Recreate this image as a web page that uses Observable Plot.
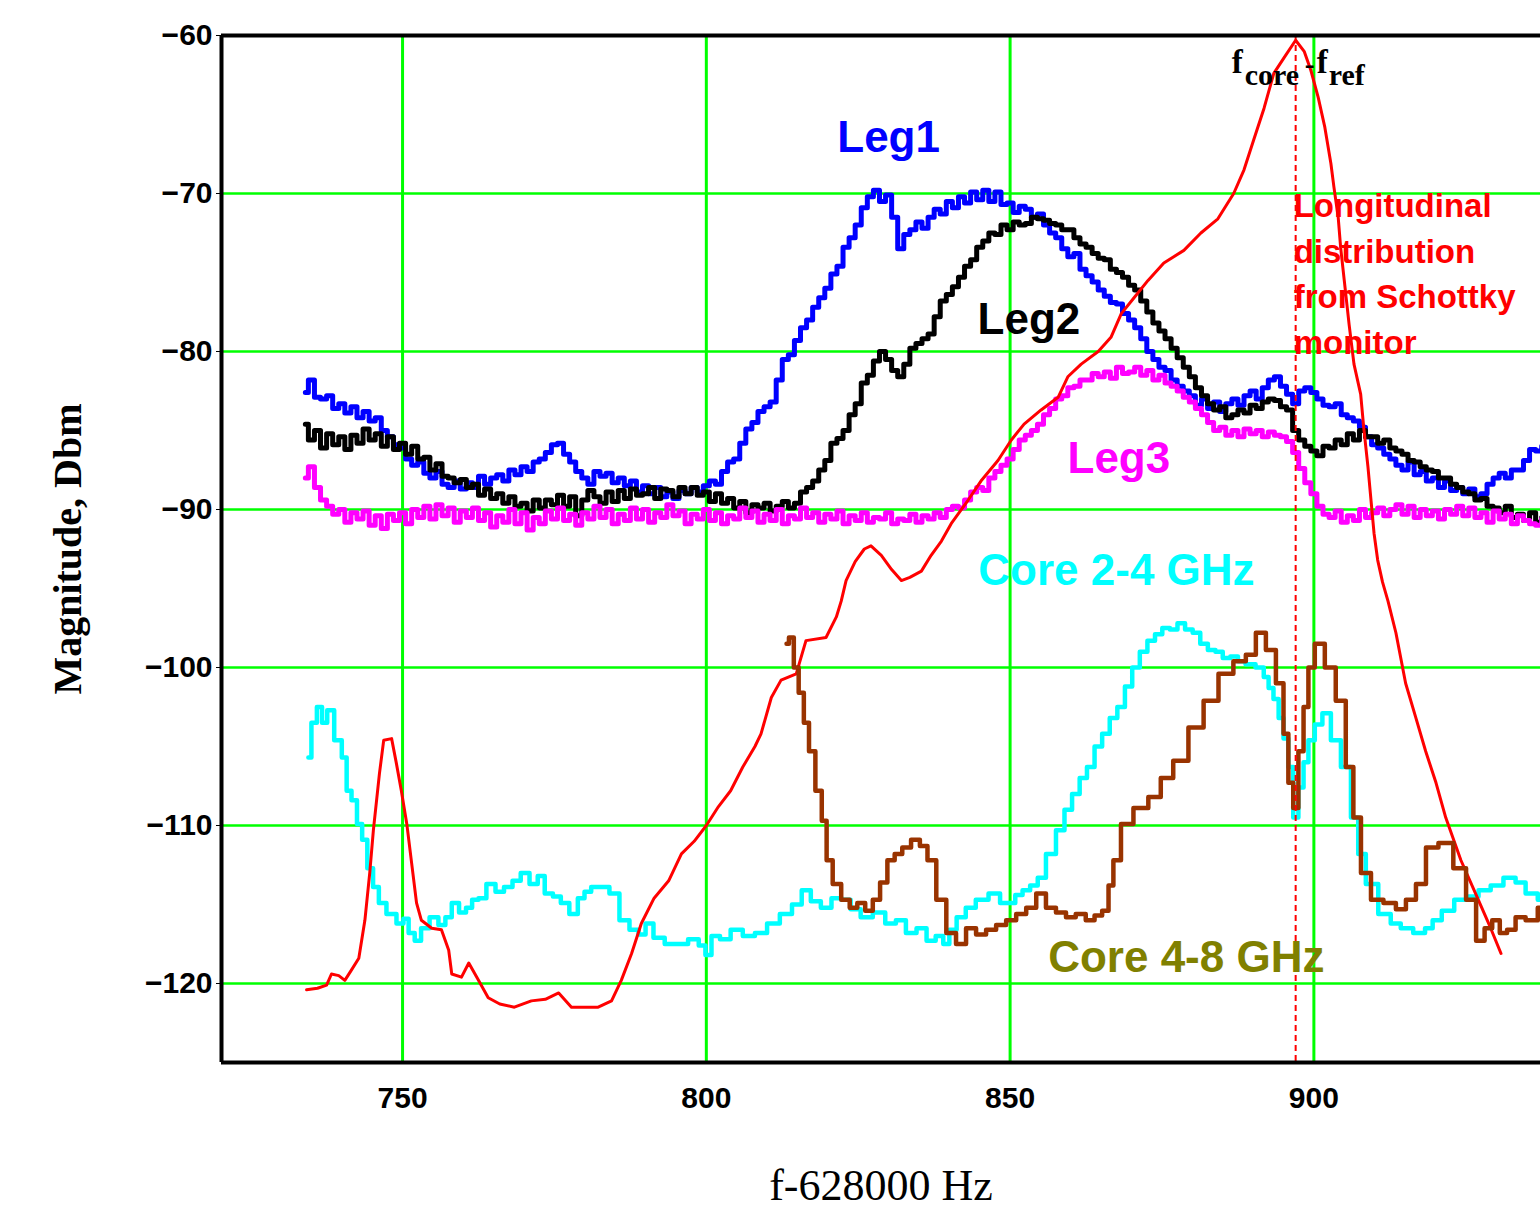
<!DOCTYPE html>
<html><head><meta charset="utf-8">
<script src="https://cdn.jsdelivr.net/npm/d3@7"></script>
<script src="https://cdn.jsdelivr.net/npm/@observablehq/plot@0.6"></script>
<style>body{margin:0;background:#fff}#chart svg{display:block}</style>
</head><body><div id="chart"></div>
<script>
const xDomain = [720.2, 937.3];
const yDomain = [-125, -60];
const xTicks = [750, 800, 850, 900];
const yTicks = [-60, -70, -80, -90, -100, -110, -120];
const gridY = [-70, -80, -90, -100, -110, -120];
const fRefLine = [897];

const leg1 = [[734,-82.6],[735,-81.8],[736,-82.9],[737,-83.0],[738,-82.8],[739,-83.6],[740,-83.3],[741,-83.9],[742,-83.5],[743,-84.2],[744,-83.8],[745,-84.4],[746,-84.2],[747,-85.0],[748,-85.4],[749,-85.9],[750,-86.1],[751,-86.8],[752,-87.2],[753,-87.0],[754,-87.7],[755,-88.0],[756,-87.6],[757,-88.4],[758,-88.6],[759,-88.2],[760,-88.7],[761,-88.3],[762,-88.6],[763,-87.9],[764,-88.4],[765,-88.0],[766,-87.8],[767,-88.2],[768,-87.5],[769,-87.8],[770,-87.3],[771,-87.6],[772,-87.0],[773,-86.8],[774,-86.4],[775,-85.9],[776,-85.8],[777,-86.5],[778,-87.0],[779,-87.6],[780,-88.0],[781,-88.4],[782,-87.6],[783,-87.9],[784,-87.7],[785,-88.3],[786,-88.0],[787,-88.5],[788,-88.2],[789,-88.9],[790,-88.5],[791,-89.0],[792,-88.6],[793,-89.2],[794,-88.9],[795,-89.3],[796,-88.8],[797,-89.0],[798,-88.6],[799,-88.9],[800,-88.5],[801,-88.2],[802,-88.4],[803,-87.6],[804,-87.0],[805,-86.8],[806,-85.8],[807,-84.9],[808,-84.5],[809,-83.8],[810,-83.5],[811,-83.2],[812,-81.8],[813,-80.5],[814,-80.2],[815,-79.3],[816,-78.5],[817,-78.0],[818,-77.2],[819,-76.6],[820,-76.0],[821,-75.1],[822,-74.6],[823,-73.4],[824,-72.8],[825,-72.0],[826,-70.9],[827,-70.2],[828,-69.8],[829,-70.5],[830,-70.1],[831,-71.5],[832,-73.5],[833,-72.6],[834,-72.3],[835,-71.8],[836,-72.2],[837,-71.5],[838,-71.0],[839,-71.3],[840,-70.5],[841,-70.9],[842,-70.2],[843,-70.6],[844,-69.9],[845,-70.4],[846,-69.8],[847,-70.5],[848,-69.9],[849,-70.7],[850,-70.6],[851,-71.2],[852,-70.8],[853,-71.0],[854,-71.5],[855,-71.3],[856,-72.0],[857,-72.5],[858,-72.8],[859,-73.5],[860,-74.0],[861,-73.8],[862,-74.8],[863,-75.2],[864,-75.6],[865,-76.1],[866,-76.5],[867,-76.9],[868,-77.0],[869,-77.6],[870,-78.0],[871,-78.5],[872,-79.2],[873,-80.0],[874,-80.5],[875,-81.0],[876,-81.2],[877,-81.8],[878,-82.2],[879,-82.5],[880,-82.8],[881,-83.4],[882,-83.0],[883,-83.6],[884,-83.2],[885,-83.8],[886,-83.3],[887,-83.0],[888,-83.4],[889,-82.8],[890,-82.5],[891,-83.0],[892,-82.3],[893,-81.8],[894,-81.6],[895,-82.2],[896,-82.7],[897,-83.3],[898,-82.5],[899,-82.3],[900,-82.6],[901,-83.0],[902,-83.4],[903,-83.5],[904,-83.3],[905,-84.0],[906,-84.2],[907,-84.4],[908,-84.8],[909,-85.4],[910,-85.9],[911,-86.1],[912,-86.5],[913,-86.8],[914,-87.2],[915,-87.5],[916,-87.0],[917,-87.8],[918,-87.6],[919,-88.2],[920,-88.0],[921,-88.6],[922,-88.2],[923,-88.8],[924,-88.6],[925,-89.0],[926,-88.7],[927,-89.2],[928,-89.0],[929,-88.4],[930,-88.0],[931,-87.7],[932,-88.0],[933,-87.5],[934,-87.5],[935,-86.9],[936,-86.2],[937,-86.3],[938,-86.0]];

const leg2 = [[734,-84.6],[735,-85.6],[736,-85.0],[737,-86.1],[738,-85.2],[739,-85.9],[740,-85.4],[741,-86.2],[742,-85.3],[743,-85.8],[744,-84.9],[745,-85.6],[746,-85.2],[747,-86.0],[748,-85.4],[749,-86.2],[750,-85.8],[751,-86.5],[752,-86.0],[753,-86.8],[754,-86.7],[755,-87.5],[756,-87.1],[757,-87.9],[758,-88.0],[759,-88.3],[760,-88.1],[761,-88.6],[762,-88.4],[763,-89.1],[764,-88.7],[765,-89.3],[766,-89.0],[767,-89.6],[768,-89.2],[769,-89.8],[770,-89.6],[771,-90.1],[772,-89.4],[773,-89.9],[774,-89.4],[775,-89.7],[776,-89.1],[777,-89.8],[778,-89.2],[779,-90.4],[780,-89.4],[781,-88.8],[782,-89.2],[783,-89.6],[784,-88.9],[785,-89.5],[786,-88.8],[787,-89.3],[788,-88.7],[789,-89.1],[790,-89.0],[791,-88.6],[792,-89.3],[793,-88.7],[794,-88.8],[795,-89.2],[796,-88.6],[797,-89.0],[798,-88.6],[799,-89.1],[800,-88.9],[801,-89.5],[802,-89.0],[803,-89.6],[804,-89.3],[805,-89.9],[806,-89.5],[807,-90.2],[808,-89.7],[809,-89.9],[810,-89.6],[811,-90.1],[812,-89.8],[813,-89.5],[814,-89.9],[815,-89.6],[816,-88.9],[817,-88.6],[818,-88.2],[819,-87.5],[820,-86.9],[821,-85.8],[822,-85.5],[823,-85.0],[824,-84.0],[825,-83.3],[826,-82.0],[827,-81.5],[828,-80.6],[829,-80.0],[830,-80.5],[831,-81.2],[832,-81.6],[833,-80.8],[834,-79.8],[835,-79.5],[836,-79.2],[837,-78.9],[838,-77.8],[839,-76.8],[840,-76.4],[841,-75.9],[842,-75.3],[843,-74.6],[844,-74.2],[845,-73.4],[846,-73.0],[847,-72.5],[848,-72.6],[849,-72.0],[850,-72.3],[851,-71.8],[852,-72.0],[853,-71.9],[854,-71.5],[855,-71.6],[856,-71.7],[857,-71.9],[858,-72.0],[859,-72.3],[860,-72.3],[861,-72.8],[862,-73.2],[863,-73.4],[864,-73.8],[865,-74.1],[866,-74.2],[867,-74.8],[868,-75.0],[869,-75.3],[870,-75.8],[871,-76.1],[872,-76.8],[873,-77.5],[874,-78.2],[875,-78.7],[876,-79.2],[877,-79.8],[878,-80.4],[879,-81.0],[880,-81.6],[881,-82.3],[882,-82.8],[883,-83.3],[884,-83.7],[885,-83.5],[886,-84.2],[887,-84.0],[888,-83.7],[889,-83.9],[890,-83.4],[891,-83.6],[892,-83.2],[893,-83.0],[894,-83.1],[895,-83.5],[896,-83.7],[897,-85.0],[898,-85.6],[899,-86.0],[900,-86.3],[901,-86.6],[902,-86.0],[903,-86.1],[904,-85.6],[905,-85.9],[906,-85.2],[907,-85.6],[908,-85.0],[909,-85.4],[910,-85.4],[911,-85.8],[912,-85.6],[913,-86.1],[914,-86.3],[915,-86.5],[916,-86.9],[917,-87.0],[918,-87.3],[919,-87.5],[920,-87.6],[921,-88.0],[922,-88.0],[923,-88.4],[924,-88.6],[925,-88.9],[926,-89.0],[927,-89.4],[928,-89.3],[929,-89.8],[930,-89.9],[931,-90.2],[932,-89.8],[933,-90.5],[934,-90.3],[935,-90.7],[936,-90.2],[937,-90.8],[938,-90.5]];

const leg3 = [[734,-88.0],[735,-87.3],[736,-88.6],[737,-89.4],[738,-89.8],[739,-90.3],[740,-90.0],[741,-90.8],[742,-90.2],[743,-90.6],[744,-90.1],[745,-91.0],[746,-90.4],[747,-91.2],[748,-90.3],[749,-90.7],[750,-90.2],[751,-90.9],[752,-90.0],[753,-90.5],[754,-89.8],[755,-90.6],[756,-89.7],[757,-90.4],[758,-89.9],[759,-90.8],[760,-90.1],[761,-90.5],[762,-89.9],[763,-90.7],[764,-90.2],[765,-91.1],[766,-90.4],[767,-90.8],[768,-90.0],[769,-90.9],[770,-90.2],[771,-91.3],[772,-90.5],[773,-90.9],[774,-90.1],[775,-90.6],[776,-89.9],[777,-90.7],[778,-90.3],[779,-91.0],[780,-90.2],[781,-90.6],[782,-89.8],[783,-90.5],[784,-90.0],[785,-90.9],[786,-90.3],[787,-90.7],[788,-89.9],[789,-90.6],[790,-90.0],[791,-90.8],[792,-90.2],[793,-90.5],[794,-89.7],[795,-90.4],[796,-90.1],[797,-90.9],[798,-90.3],[799,-90.6],[800,-90.0],[801,-90.7],[802,-90.2],[803,-90.9],[804,-90.4],[805,-90.6],[806,-89.9],[807,-90.5],[808,-90.1],[809,-90.8],[810,-90.3],[811,-90.7],[812,-90.0],[813,-90.9],[814,-90.4],[815,-90.6],[816,-89.9],[817,-90.5],[818,-90.2],[819,-90.8],[820,-90.3],[821,-90.6],[822,-90.1],[823,-90.9],[824,-90.4],[825,-90.7],[826,-90.2],[827,-90.8],[828,-90.5],[829,-90.6],[830,-90.2],[831,-90.9],[832,-90.6],[833,-90.7],[834,-90.3],[835,-90.8],[836,-90.4],[837,-90.6],[838,-90.2],[839,-90.5],[840,-90.0],[841,-89.8],[842,-89.9],[843,-89.4],[844,-88.9],[845,-88.6],[846,-88.8],[847,-88.0],[848,-87.6],[849,-87.2],[850,-86.8],[851,-86.2],[852,-85.6],[853,-85.3],[854,-85.0],[855,-84.6],[856,-84.0],[857,-83.6],[858,-83.0],[859,-82.8],[860,-82.3],[861,-82.2],[862,-81.8],[863,-81.8],[864,-81.4],[865,-81.6],[866,-81.3],[867,-81.7],[868,-81.0],[869,-81.4],[870,-81.3],[871,-81.0],[872,-81.5],[873,-81.2],[874,-81.8],[875,-81.5],[876,-82.0],[877,-82.2],[878,-82.5],[879,-82.9],[880,-83.2],[881,-83.6],[882,-84.0],[883,-84.5],[884,-85.0],[885,-84.8],[886,-85.3],[887,-85.0],[888,-85.4],[889,-84.9],[890,-85.2],[891,-85.0],[892,-85.4],[893,-85.1],[894,-85.3],[895,-85.4],[896,-85.7],[897,-86.4],[898,-87.4],[899,-88.3],[900,-89.0],[901,-89.8],[902,-90.3],[903,-90.5],[904,-90.1],[905,-90.8],[906,-90.4],[907,-90.7],[908,-90.0],[909,-90.5],[910,-90.2],[911,-89.9],[912,-90.4],[913,-90.0],[914,-89.7],[915,-90.3],[916,-89.8],[917,-90.5],[918,-90.0],[919,-90.4],[920,-90.1],[921,-90.6],[922,-90.0],[923,-90.3],[924,-89.8],[925,-90.4],[926,-89.9],[927,-90.5],[928,-90.2],[929,-90.8],[930,-90.1],[931,-90.6],[932,-90.3],[933,-90.9],[934,-90.4],[935,-90.7],[936,-90.9],[937,-91.0],[938,-90.6]];

const longitudinal = [[734.2,-120.4],[736,-120.3],[737.5,-120.1],[738.3,-119.4],[739.5,-119.5],[740.5,-119.8],[741.5,-119.2],[742.8,-118.4],[743.8,-116.0],[744.6,-113.0],[745.2,-110.3],[746.2,-106.7],[746.9,-104.6],[748.2,-104.5],[749.0,-106.1],[749.8,-107.8],[750.7,-109.9],[751.5,-112.4],[752.3,-114.9],[753.1,-116.0],[754.8,-116.5],[756.4,-116.6],[757.6,-117.9],[758.1,-119.4],[759.7,-119.6],[760.9,-118.7],[762.5,-119.8],[764.1,-120.9],[766,-121.3],[768.4,-121.5],[771.2,-121.1],[773.5,-121.0],[775.7,-120.6],[777.8,-121.5],[780,-121.5],[782.2,-121.5],[784.4,-121.1],[786.0,-119.8],[787.7,-118.1],[789.3,-116.2],[791.4,-114.6],[793.8,-113.5],[795.9,-111.8],[798,-111.0],[800,-110.0],[802,-108.8],[804,-107.8],[806,-106.3],[808,-105.0],[809,-104.2],[810.7,-101.9],[812.3,-100.8],[814.8,-100.4],[816.4,-98.3],[819.7,-98.1],[821.4,-96.8],[822.2,-95.8],[823,-94.5],[824.5,-93.3],[826,-92.5],[827.1,-92.3],[828.8,-92.9],[830.5,-93.8],[832.1,-94.5],[833.5,-94.3],[835.4,-93.9],[837,-92.9],[838.7,-92.0],[840.3,-90.9],[843.1,-89.4],[845.2,-88.2],[848,-86.9],[850.2,-85.6],[852.3,-84.6],[855.1,-83.7],[857.9,-82.9],[859.5,-81.6],[861.7,-80.8],[864.5,-80.0],[866.6,-79.1],[868.3,-77.6],[870.4,-76.6],[872.7,-75.5],[875.3,-74.4],[878.6,-73.6],[881.4,-72.5],[884.2,-71.6],[886.8,-70.0],[888.5,-68.5],[890.1,-66.6],[891.8,-64.6],[893.4,-62.4],[895.1,-61.4],[897,-60.3],[898.4,-61.0],[899.5,-62.2],[900.7,-63.9],[901.8,-65.8],[902.8,-68.1],[903.3,-69.6],[904.0,-71.5],[904.4,-73.4],[905.0,-75.5],[905.8,-78.3],[906.6,-80.8],[907.7,-82.7],[908.2,-84.8],[908.9,-87.3],[909.4,-89.4],[909.9,-91.5],[910.5,-93.2],[911.3,-94.6],[912.2,-95.8],[913.5,-97.8],[915.1,-101.0],[916.8,-103.2],[918.4,-105.3],[920.1,-107.3],[921.7,-109.5],[924.2,-112.2],[926.6,-114.3],[929.1,-116.5],[930.8,-118.1]];

const core24 = [[734.5,-105.7],[735.5,-103.5],[736.3,-102.5],[737.2,-103.5],[738,-102.7],[739.5,-104.6],[740.5,-105.7],[741.1,-107.8],[742.1,-108.4],[742.9,-109.9],[743.8,-110.9],[744.6,-112.7],[745.7,-113.9],[746.5,-114.9],[748.2,-115.6],[749.8,-116.2],[750.5,-115.9],[751.5,-116.8],[752.5,-117.3],[753.6,-116.5],[755.3,-115.8],[756.5,-116.3],[757.6,-115.8],[758.6,-114.9],[760,-115.5],[760.9,-115.2],[762,-114.7],[763,-114.6],[764.6,-113.7],[766,-114.2],[767.4,-113.9],[768.8,-113.5],[770.1,-113.0],[771.7,-113.7],[772.8,-113.2],[774,-114.3],[775.5,-114.5],[776.6,-114.9],[778.3,-115.6],[779.4,-114.6],[780.5,-114.2],[781.6,-113.9],[783.2,-113.9],[784.9,-114.3],[786.5,-116.0],[788.2,-116.6],[789.5,-116.9],[790.5,-116.2],[792.1,-117.1],[794.2,-117.5],[796,-117.5],[798,-117.2],[799.5,-117.6],[800.2,-118.2],[801.5,-117.0],[803,-117.2],[805,-116.6],[807,-117.0],[809,-116.8],[811,-116.2],[813.2,-115.6],[815,-115.0],[816.4,-114.1],[818,-114.8],[819.7,-115.2],[821.5,-114.6],[823,-114.7],[824.5,-115.3],[826.3,-115.8],[828.5,-115.5],[830.4,-116.2],[832,-116.0],[833.7,-116.8],[835.5,-116.5],[837,-117.3],[838.5,-117.0],[839.5,-117.5],[840.5,-116.6],[841.9,-115.8],[843.5,-115.2],[845.2,-114.7],[847.7,-114.3],[849,-114.9],[850.2,-114.9],[851.5,-114.4],[852.6,-114.1],[854,-113.8],[855.1,-113.3],[856.7,-111.8],[858.4,-110.3],[859.5,-109.0],[860.9,-108.0],[862,-107.0],[863.3,-106.3],[864.5,-105.0],[865.8,-104.2],[867,-103.2],[868.3,-102.5],[869.5,-101.2],[870.7,-100.0],[872,-99.0],[873.2,-98.3],[874.5,-97.9],[875.6,-97.5],[877,-97.6],[878.1,-97.2],[879.5,-97.6],[880.6,-97.8],[882,-98.5],[883.1,-98.9],[884.5,-99.0],[885.5,-99.4],[887,-99.3],[888,-99.6],[889.5,-99.8],[891.3,-100.0],[892.2,-100.6],[892.9,-101.3],[893.8,-102.0],[894.6,-103.2],[895.4,-104.5],[896.2,-106.3],[897,-109.5],[897.9,-107.6],[898.7,-106.0],[899.5,-104.6],[900.8,-103.6],[902,-102.9],[903.6,-104.6],[905.3,-106.3],[906.9,-109.5],[907.7,-111.8],[909.4,-113.7],[911.8,-115.6],[913.5,-116.2],[915.1,-116.5],[917.6,-116.8],[919,-116.5],[920.1,-116.0],[922,-115.4],[924.2,-114.7],[926,-114.5],[928.2,-114.1],[930,-113.8],[932.4,-113.3],[934,-113.6],[935.7,-114.3],[938,-114.7]];

const core48 = [[813.2,-98.5],[814,-98.1],[814.8,-100.0],[815.6,-101.6],[816.5,-103.5],[817.3,-105.3],[818.6,-107.8],[819.4,-109.7],[820.2,-112.2],[821.4,-113.7],[823,-114.7],[824.2,-115.2],[825.5,-114.9],[826.8,-115.4],[828,-114.7],[829.2,-113.6],[830.4,-112.2],[831.6,-111.8],[832.9,-111.4],[834.5,-110.9],[835.8,-111.3],[837,-112.2],[838.7,-114.7],[840.3,-116.8],[841.9,-117.5],[843.6,-116.5],[845.2,-116.9],[846.9,-116.6],[848.5,-116.3],[850.2,-116.0],[851.8,-115.6],[853.5,-115.2],[855.1,-114.3],[856.7,-115.2],[858.4,-115.5],[860,-115.8],[861.6,-115.6],[863.3,-116.0],[864.5,-115.7],[865.8,-115.4],[866.6,-113.8],[867.4,-112.2],[869.1,-109.9],[871.5,-108.9],[874,-108.2],[875.6,-107.0],[878.1,-105.9],[880.6,-103.8],[883.1,-102.1],[885.5,-100.4],[888,-99.6],[889.6,-99.2],[891.3,-97.8],[892.9,-98.9],[894.6,-101.0],[895.4,-104.2],[896.2,-107.3],[897,-108.9],[897.9,-105.3],[898.7,-102.5],[899.5,-100.0],[900.8,-98.5],[902.8,-100.0],[904.4,-102.1],[906.1,-106.3],[906.9,-109.5],[908.6,-113.0],[910.2,-114.7],[912.7,-114.9],[914.3,-115.3],[916,-114.7],[917.6,-113.7],[919.3,-111.4],[921.7,-111.1],[924.2,-112.7],[925.9,-114.7],[927.5,-117.3],[928.7,-116.5],[930,-116.0],[931.2,-116.8],[932.4,-116.6],[934,-115.8],[935.7,-116.0],[938,-115.2]];

const labels = [
  {text: "Leg1", x: 830, y: -66.5, color: "#0000ff"},
  {text: "Leg2", x: 853.1, y: -78.0, color: "#000000"},
  {text: "Leg3", x: 867.9, y: -86.8, color: "#ff00ff"},
  {text: "Core 2-4 GHz", x: 867.5, y: -93.9, color: "#00ffff"},
  {text: "Core 4-8 GHz", x: 879.0, y: -118.4, color: "#808000"}
];
const schottkyText = "Longitudinal\ndistribution\nfrom Schottky\nmonitor";

const sans = "'Liberation Sans', Arial, sans-serif";
const serif = "'Liberation Serif', 'Times New Roman', serif";
const px = d => d[0], py = d => d[1];

const plot = Plot.plot({
  width: 1540, height: 1218,
  marginLeft: 221, marginTop: 35, marginBottom: 156, marginRight: 0,
  x: {domain: xDomain},
  y: {domain: yDomain},
  style: {background: "#fff", color: "#000", fontFamily: sans, overflow: "visible"},
  marks: [
    Plot.ruleX(xTicks, {stroke: "#00ff00", strokeWidth: 3}),
    Plot.ruleY(gridY, {stroke: "#00ff00", strokeWidth: 2.5}),
    Plot.line(leg1, {x: px, y: py, stroke: "#0000ff", strokeWidth: 5, curve: "step", clip: true}),
    Plot.line(leg2, {x: px, y: py, stroke: "#000000", strokeWidth: 5, curve: "step", clip: true}),
    Plot.line(leg3, {x: px, y: py, stroke: "#ff00ff", strokeWidth: 5, curve: "step", clip: true}),
    Plot.line(core24, {x: px, y: py, stroke: "#00ffff", strokeWidth: 4.5, curve: "step", clip: true}),
    Plot.line(longitudinal, {x: px, y: py, stroke: "#ff0000", strokeWidth: 3, clip: true}),
    Plot.line(core48, {x: px, y: py, stroke: "#993300", strokeWidth: 4.5, curve: "step", clip: true}),
    Plot.ruleX(fRefLine, {stroke: "#ff0000", strokeWidth: 2, strokeDasharray: "6,4"}),
    Plot.ruleX([xDomain[0]], {stroke: "#000", strokeWidth: 4}),
    Plot.ruleY([yDomain[1]], {stroke: "#000", strokeWidth: 4}),
    Plot.ruleY([yDomain[0]], {stroke: "#000", strokeWidth: 4}),
    Plot.axisX(xTicks, {anchor: "bottom", tickSize: 0, tickPadding: 24, fontSize: 30, fontWeight: "bold", label: null}),
    Plot.axisY(yTicks, {anchor: "left", tickSize: 5, tickPadding: 4, fontSize: 30, fontWeight: "bold", label: null, tickFormat: d => "\u2212" + Math.abs(d)}),
    Plot.text(labels, {x: "x", y: "y", text: "text", fill: "color", fontSize: 44, fontWeight: "bold", lineAnchor: "middle"}),
    Plot.text([schottkyText], {x: fRefLine[0], y: -74.9, text: d => d, fill: "#ff0000", fontSize: 33, fontWeight: "bold", textAnchor: "start", lineAnchor: "middle", lineHeight: 1.38, dx: -2}),
    Plot.text(["f"], {x: fRefLine[0], y: -61.7, text: d => d, fontFamily: serif, fontSize: 33, fontWeight: "bold", textAnchor: "start", lineAnchor: "middle", dx: -64}),
    Plot.text(["core"], {x: fRefLine[0], y: -62.55, text: d => d, fontFamily: serif, fontSize: 30, fontWeight: "bold", textAnchor: "start", lineAnchor: "middle", dx: -51}),
    Plot.text(["-"], {x: fRefLine[0], y: -61.8, text: d => d, fontFamily: serif, fontSize: 30, fontWeight: "bold", textAnchor: "start", lineAnchor: "middle", dx: 9}),
    Plot.text(["f"], {x: fRefLine[0], y: -61.7, text: d => d, fontFamily: serif, fontSize: 33, fontWeight: "bold", textAnchor: "start", lineAnchor: "middle", dx: 21}),
    Plot.text(["ref"], {x: fRefLine[0], y: -62.55, text: d => d, fontFamily: serif, fontSize: 30, fontWeight: "bold", textAnchor: "start", lineAnchor: "middle", dx: 33}),
    Plot.text(["f-628000 Hz"], {frameAnchor: "bottom", text: d => d, fontFamily: serif, fontSize: 44, dy: 123, lineAnchor: "middle"}),
    Plot.text(["Magnitude, Dbm"], {frameAnchor: "left", text: d => d, fontFamily: serif, fontSize: 40, fontWeight: "bold", rotate: -90, dx: -153, textAnchor: "middle", lineAnchor: "middle"})
  ]
});
document.getElementById("chart").appendChild(plot);
</script></body></html>
